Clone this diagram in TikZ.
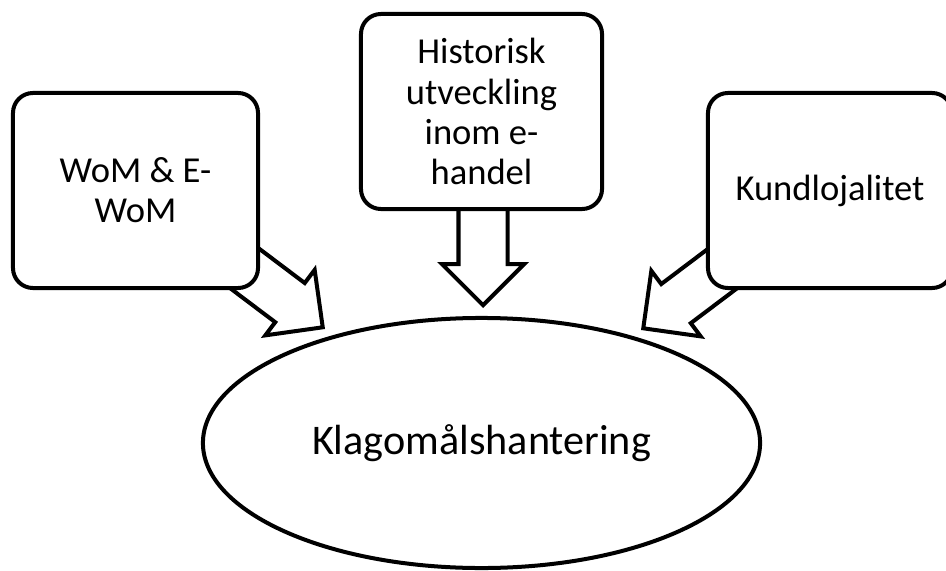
\documentclass[tikz,border=0pt]{standalone}
\usepackage{fontspec}
\setmainfont{Carlito}
\usetikzlibrary{positioning, shapes.geometric, shapes.arrows}

\begin{document}
\begin{tikzpicture}[
    % GLOBAL CFG
    x=0.025cm, y=-0.025cm,
    line width=0.1cm,
    % Styles
    topic/.style={% For the three rounded boxes
        rectangle,
        rounded corners=0.5cm,
        draw,
        fill=white,
        minimum width=6.125cm,
        minimum height=4.875cm,
        align=center,
        font=\fontsize{26}{28.5}\selectfont,
        },
    core/.style={% For the big ellipse
        ellipse,
        draw,
        fill=white,
        minimum width=13.925cm,
        minimum height=6.25cm,
        font=\fontsize{30}{36}\selectfont,
        },
    feed/.style={% Block arrows into the ellipse
        single arrow,
        draw,
        fill=white,
        inner xsep=0pt,
        inner ysep=0.5625cm,
        single arrow head extend=0.4125cm,
        minimum height=2.75cm,
        anchor=tip,
        },
    ]

%Start drawing the thing...
    \clip (0,0) rectangle (946,571);

    % Draw the block arrows first, named feed#
    \node [feed, rotate=-37] (feed1) at (325,329) {};
    \node [feed, rotate=-90] (feed2) at (483,308) {};
    \node [feed, rotate=-143] (feed3) at (641,330) {};

    % Draw the boxes on top of the arrow tails
    \node [topic] (wom) at (135.5,190.5) {WoM \& E-\\WoM};
    \node [topic, minimum width=6.025cm] (hist) at (481.5,111.5) {Historisk\\utveckling\\inom e-\\handel};
    \node [topic, minimum width=6.1cm] (kund) at (830,190.5) {Kundlojalitet};

    % Draw the ellipse
    \node [core] (klag) at (481.5,443) {Klagomålshantering};

\end{tikzpicture}
\end{document}
